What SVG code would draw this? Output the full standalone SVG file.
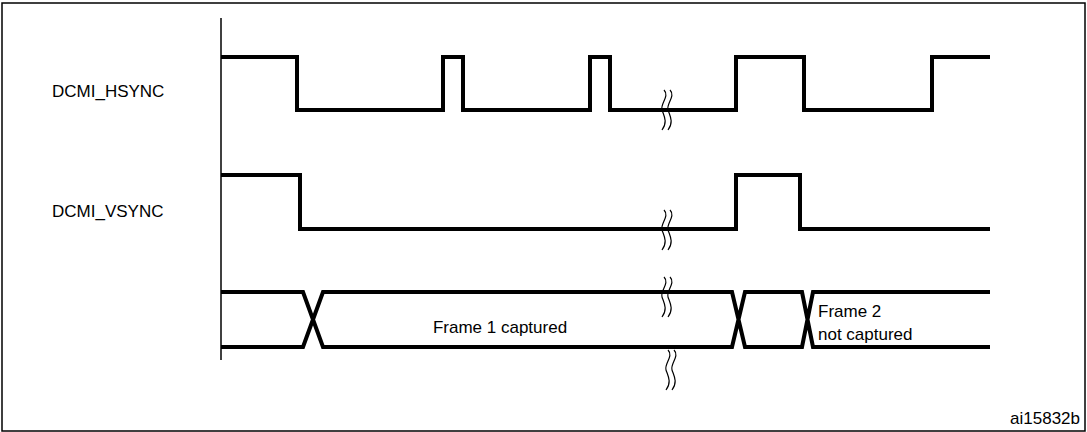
<svg xmlns="http://www.w3.org/2000/svg" width="1087" height="432" viewBox="0 0 1087 432">
<style>
.sig{fill:none;stroke:#000;stroke-width:4;stroke-linejoin:miter}
.brk{fill:none;stroke:#000;stroke-width:1.2}
text{font-family:"Liberation Sans",Arial,sans-serif;font-size:17px;fill:#000}
</style>
<defs>
<path id="bk" class="brk" d="M0,0 c6,6 -4,14 -2,20 c2,6 6,12 0,20 M6,0 c6,6 -4,14 -2,20 c2,6 6,12 0,20"/>
</defs>
<rect x="2" y="3" width="1083" height="428" fill="#fff" stroke="#000" stroke-width="1.5"/>
<g id="labels">
<text x="52" y="97">DCMI_HSYNC</text>
<text x="52" y="217">DCMI_VSYNC</text>
<text x="500" y="333" text-anchor="middle">Frame 1 captured</text>
<text x="818" y="317">Frame 2</text>
<text x="818" y="340">not captured</text>
<text x="1080" y="424" text-anchor="end">ai15832b</text>
</g>
<g id="connectors">
<line x1="221" y1="18" x2="221" y2="360" stroke="#000" stroke-width="1.5"/>
<path id="hsync" class="sig" d="M221,57 H297 V110 H443 V57 H463 V110 H590 V57 H610 V110 H736 V57 H804 V110 H932 V57 H990"/>
<path id="vsync" class="sig" d="M221,175 H300 V229 H736 V175 H800 V229 H990"/>
<path id="bus" class="sig" d="M221,292 H303 L323,347 H732 L745,292 H802 L813,347 H990 M221,347 H303 L323,292 H732 L745,347 H802 L813,292 H990"/>
<use href="#bk" x="664" y="90"/>
<use href="#bk" x="664" y="210"/>
<use href="#bk" x="664" y="277"/>
<use href="#bk" x="668" y="350"/>
</g>
</svg>
